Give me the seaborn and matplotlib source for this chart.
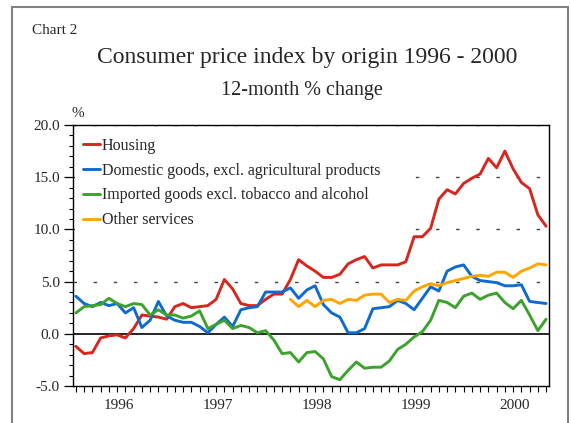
import numpy as np
import pandas as pd
import matplotlib
matplotlib.use("Agg")
import matplotlib.pyplot as plt
import seaborn as sns
from matplotlib.patches import Rectangle
from matplotlib.ticker import FixedLocator, MultipleLocator, FuncFormatter

# monthly observations, Jan 1996 .. Oct 2000 (index 0..57)
months = np.arange(58)
years = [1996, 1997, 1998, 1999, 2000]
year_centres = [5.2, 17.2, 29.2, 41.2, 53.2]
grid_levels = [5, 10, 15, 20]

housing = [-1.2, -1.9, -1.8, -0.4, -0.2, -0.1, -0.4, 0.5, 1.8, 1.7, 1.6, 1.4, 2.6, 2.9, 2.5,
           2.6, 2.7, 3.3, 5.2, 4.3, 2.9, 2.7, 2.7, 3.3, 3.8, 3.8, 5.2, 7.1, 6.5, 6.0,
           5.4, 5.4, 5.7, 6.7, 7.1, 7.4, 6.3, 6.6, 6.6, 6.6, 6.9, 9.3, 9.3, 10.1,
           12.9, 13.8, 13.4, 14.4, 14.9, 15.3, 16.8, 15.9, 17.5, 15.8, 14.5, 13.9, 11.4, 10.3]
domestic = [3.6, 2.9, 2.6, 3.0, 2.7, 2.9, 2.0, 2.5, 0.6, 1.3, 3.1, 1.7, 1.3, 1.1, 1.1,
            0.7, 0.1, 0.9, 1.6, 0.7, 2.3, 2.5, 2.6, 4.0, 4.0, 4.0, 4.4, 3.4, 4.2, 4.6,
            2.8, 2.0, 1.6, 0.1, 0.1, 0.5, 2.4, 2.5, 2.6, 3.2, 2.9, 2.3, 3.4, 4.5,
            4.1, 6.0, 6.4, 6.6, 5.5, 5.1, 5.0, 4.9, 4.6, 4.6, 4.7, 3.1, 3.0, 2.9]
imported = [2.0, 2.6, 2.7, 2.8, 3.4, 2.9, 2.6, 2.9, 2.8, 1.8, 2.3, 1.8, 1.8, 1.5, 1.7,
            2.2, 0.5, 0.9, 1.3, 0.5, 0.8, 0.6, 0.1, 0.3, -0.6, -1.9, -1.8, -2.7, -1.8, -1.7,
            -2.4, -4.1, -4.4, -3.5, -2.7, -3.3, -3.2, -3.2, -2.6, -1.5, -1.0, -0.3, 0.2, 1.3,
            3.2, 3.0, 2.5, 3.6, 3.9, 3.3, 3.7, 3.9, 3.0, 2.4, 3.2, 1.8, 0.3, 1.4]
other = [np.nan] * 26 + [3.3, 2.6, 3.2, 2.6,
                         3.2, 3.3, 2.9, 3.3, 3.2, 3.7, 3.8, 3.8, 3.0, 3.3, 3.2, 4.1, 4.5, 4.8,
                         4.6, 4.9, 5.1, 5.3, 5.5, 5.6, 5.5, 5.9, 5.9, 5.4, 6.0, 6.3, 6.7, 6.6]

names = ["Housing",
         "Domestic goods, excl. agricultural products",
         "Imported goods excl. tobacco and alcohol",
         "Other services"]
colors = ["#d7261e", "#0f6ad0", "#3ba22c", "#ffa500"]

df = pd.DataFrame({"month": months, names[0]: housing, names[1]: domestic,
                   names[2]: imported, names[3]: other})

sns.set_theme(style="white")
plt.rcParams["font.family"] = ["Liberation Serif", "DejaVu Serif"]

fig = plt.figure(figsize=(5.71, 4.23), dpi=100)
ax = fig.add_axes([73 / 571, 1 - 386 / 423, 476 / 571, 261 / 423])

# dashed reference lines, solid zero line
for lev in grid_levels:
    ax.axhline(lev, ls=(0, (2.5, 12)), color="#444444", lw=1, zorder=0.5)
ax.axhline(0, color="black", lw=1.2, zorder=1.5)

for name, color in zip(names, colors):
    sns.lineplot(data=df, x="month", y=name, color=color, lw=2.1, label=name, ax=ax)

ax.set_xlim(-0.35, 57.35)
ax.set_ylim(-5, 20)
ax.set_xlabel("")
ax.set_ylabel("")

# y axis
ax.yaxis.set_major_locator(MultipleLocator(5))
ax.yaxis.set_minor_locator(MultipleLocator(1))
ax.yaxis.set_major_formatter(FuncFormatter(lambda v, p: f"{v:.1f}"))
ax.tick_params(axis="y", which="major", direction="out", length=6.5, width=0.9,
               color="black", labelsize=11, pad=3, left=True)
ax.tick_params(axis="y", which="minor", direction="out", length=3, width=0.8,
               color="black", left=True)
ax.grid(False)

# x axis: month ticks, year labels in the middle of each year
ax.xaxis.set_major_locator(FixedLocator(year_centres))
ax.set_xticklabels(years)
ax.xaxis.set_minor_locator(FixedLocator(months))
ax.tick_params(axis="x", which="major", length=0, labelsize=11, pad=9)
ax.tick_params(axis="x", which="minor", direction="out", length=4.5, width=0.8,
               color="black", bottom=True)

for sp in ax.spines.values():
    sp.set_color("black")
    sp.set_linewidth(1)
    sp.set_zorder(6)

leg = ax.legend(loc="upper left", bbox_to_anchor=(1.5 / 476, 0, 0.684, 1 - 4 / 261),
                mode="expand", frameon=True, facecolor="white", edgecolor="none",
                framealpha=1, fancybox=False, fontsize=11.5, handlelength=1.05,
                handletextpad=0.1, labelspacing=0.55, borderpad=0.55, borderaxespad=0)
leg.set_zorder(2.2)

fig.text(32 / 571, 1 - 34 / 423, "Chart 2", fontsize=11, ha="left", va="baseline")
fig.text(307 / 571, 1 - 57 / 423, "Consumer price index by origin 1996 - 2000",
         fontsize=17, ha="center", va="center")
fig.text(302 / 571, 1 - 91 / 423, "12-month % change", fontsize=14.5,
         ha="center", va="center")
fig.text(78 / 571, 1 - 113 / 423, "%", fontsize=11, ha="center", va="center")

fig.add_artist(Rectangle((12 / 571, -0.05), (568 - 12) / 571, 1.05 - 7 / 423,
                         transform=fig.transFigure, fill=False,
                         edgecolor="#808080", lw=1.5))

fig.savefig("out.png", dpi=100)
